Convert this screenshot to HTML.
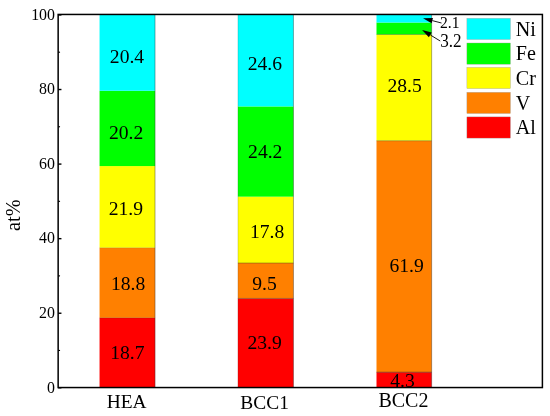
<!DOCTYPE html>
<html lang="en"><head><meta charset="utf-8"><title>at% stacked bar chart</title>
<style>html,body{margin:0;padding:0;background:#fff}body{width:550px;height:416px;overflow:hidden}svg{display:block}text{font-family:"Liberation Serif","Times New Roman",serif;fill:#000}</style>
</head><body>
<svg width="550" height="416" viewBox="0 0 550 416">
<rect x="0" y="0" width="550" height="416" fill="#fff"/>
<g shape-rendering="auto">
<rect x="99.55" y="317.83" width="55.55" height="69.72" fill="#FF0000"/>
<rect x="99.55" y="247.73" width="55.55" height="70.10" fill="#FF8000"/>
<rect x="99.55" y="166.08" width="55.55" height="81.65" fill="#FFFF00"/>
<rect x="99.55" y="90.76" width="55.55" height="75.32" fill="#00FF00"/>
<rect x="99.55" y="14.70" width="55.55" height="76.06" fill="#00FFFF"/>
<rect x="237.90" y="298.44" width="55.60" height="89.11" fill="#FF0000"/>
<rect x="237.90" y="263.02" width="55.60" height="35.42" fill="#FF8000"/>
<rect x="237.90" y="196.65" width="55.60" height="66.37" fill="#FFFF00"/>
<rect x="237.90" y="106.42" width="55.60" height="90.23" fill="#00FF00"/>
<rect x="237.90" y="14.70" width="55.60" height="91.72" fill="#00FFFF"/>
<rect x="376.50" y="372.19" width="55.20" height="15.36" fill="#FF0000"/>
<rect x="376.50" y="140.72" width="55.20" height="231.47" fill="#FF8000"/>
<rect x="376.50" y="34.46" width="55.20" height="106.26" fill="#FFFF00"/>
<rect x="376.50" y="22.53" width="55.20" height="11.93" fill="#00FF00"/>
<rect x="376.50" y="14.70" width="55.20" height="7.83" fill="#00FFFF"/>
</g>
<g stroke="#222" stroke-width="0.6">
<line x1="99.55" x2="155.10" y1="317.83" y2="317.83" stroke-opacity="0.35"/>
<line x1="99.55" x2="155.10" y1="247.73" y2="247.73" stroke-opacity="0.25"/>
<line x1="237.90" x2="293.50" y1="298.44" y2="298.44" stroke-opacity="0.6"/>
<line x1="237.90" x2="293.50" y1="263.02" y2="263.02" stroke-opacity="0.6"/>
<line x1="376.50" x2="431.70" y1="372.19" y2="372.19" stroke-opacity="0.8"/>
<line x1="376.50" x2="431.70" y1="140.72" y2="140.72" stroke-opacity="0.55"/>
<line x1="376.50" x2="431.70" y1="34.46" y2="34.46" stroke-opacity="0.5"/>
</g>
<line x1="155.00" x2="155.00" y1="14.45" y2="387.55" stroke="#333" stroke-width="0.7" stroke-opacity="0.6"/>
<line x1="238.00" x2="238.00" y1="14.45" y2="387.55" stroke="#333" stroke-width="0.7" stroke-opacity="0.25"/>
<line x1="293.45" x2="293.45" y1="14.45" y2="387.55" stroke="#333" stroke-width="0.7" stroke-opacity="0.6"/>
<line x1="431.65" x2="431.65" y1="14.45" y2="387.55" stroke="#333" stroke-width="0.7" stroke-opacity="0.6"/>
<rect x="58.15" y="14.45" width="484.25" height="373.10" fill="none" stroke="#000" stroke-width="1.5"/>
<g stroke="#000" stroke-width="1.4">
<line x1="58.15" x2="61.449999999999996" y1="387.80" y2="387.80"/>
<line x1="58.15" x2="61.449999999999996" y1="313.23" y2="313.23"/>
<line x1="58.15" x2="61.449999999999996" y1="238.66" y2="238.66"/>
<line x1="58.15" x2="61.449999999999996" y1="164.09" y2="164.09"/>
<line x1="58.15" x2="61.449999999999996" y1="89.52" y2="89.52"/>
<line x1="58.15" x2="61.449999999999996" y1="14.95" y2="14.95"/>
<line x1="58.15" x2="60.05" y1="350.46" y2="350.46" stroke-width="1.1"/>
<line x1="58.15" x2="60.05" y1="275.89" y2="275.89" stroke-width="1.1"/>
<line x1="58.15" x2="60.05" y1="201.33" y2="201.33" stroke-width="1.1"/>
<line x1="58.15" x2="60.05" y1="126.76" y2="126.76" stroke-width="1.1"/>
<line x1="58.15" x2="60.05" y1="52.19" y2="52.19" stroke-width="1.1"/>
</g>
<g font-size="15.9" text-anchor="end">
<text x="55.0" y="392.55">0</text>
<text x="55.0" y="317.98">20</text>
<text x="55.0" y="243.41">40</text>
<text x="55.0" y="168.84">60</text>
<text x="55.0" y="94.27">80</text>
<text x="55.0" y="19.70">100</text>
</g>
<text font-size="20.2" text-anchor="middle" transform="translate(19.7,215.2) rotate(-90)">at%</text>
<g font-size="19.4" text-anchor="middle">
<text x="126.6" y="408.4">HEA</text>
<text x="264.6" y="409.0">BCC1</text>
<text x="403.4" y="406.5" font-size="20">BCC2</text>
</g>
<g font-size="19.6" text-anchor="middle">
<text x="127.00" y="62.70">20.4</text>
<text x="126.15" y="139.30">20.2</text>
<text x="125.80" y="215.30">21.9</text>
<text x="128.15" y="290.30">18.8</text>
<text x="127.40" y="358.80">18.7</text>
<text x="264.90" y="69.80">24.6</text>
<text x="265.25" y="157.80">24.2</text>
<text x="267.15" y="238.00">17.8</text>
<text x="264.55" y="290.40">9.5</text>
<text x="264.55" y="349.30">23.9</text>
<text x="404.55" y="91.90">28.5</text>
<text x="406.60" y="272.30">61.9</text>
<text x="402.55" y="387.30">4.3</text>
</g>
<text font-size="16.5" transform="translate(440.0,28.3) scale(0.95,1)">2.1</text>
<text font-size="18.2" transform="translate(440.2,47.0) scale(0.94,1)">3.2</text>
<line x1="441.50" y1="23.00" x2="432.29" y2="20.61" stroke="#000" stroke-width="0.9"/>
<polygon points="423.00,18.20 432.97,18.00 431.61,23.22" fill="#000"/>
<line x1="440.20" y1="41.00" x2="430.28" y2="34.92" stroke="#000" stroke-width="0.9"/>
<polygon points="422.10,29.90 431.70,32.62 428.87,37.22" fill="#000"/>
<g stroke="#9a9a9a" stroke-width="0.35">
<rect x="466.9" y="18.3" width="43.5" height="21.2" fill="#00FFFF"/>
<rect x="466.9" y="43.0" width="43.5" height="21.2" fill="#00FF00"/>
<rect x="466.9" y="67.4" width="43.5" height="21.2" fill="#FFFF00"/>
<rect x="466.9" y="92.3" width="43.5" height="21.2" fill="#FF8000"/>
<rect x="466.9" y="116.9" width="43.5" height="21.2" fill="#FF0000"/>
</g>
<g font-size="20.1">
<text x="515.8" y="35.50">Ni</text>
<text x="515.8" y="60.20">Fe</text>
<text x="515.8" y="84.60">Cr</text>
<text x="515.8" y="109.50">V</text>
<text x="515.8" y="134.10">Al</text>
</g>
</svg>
</body></html>
